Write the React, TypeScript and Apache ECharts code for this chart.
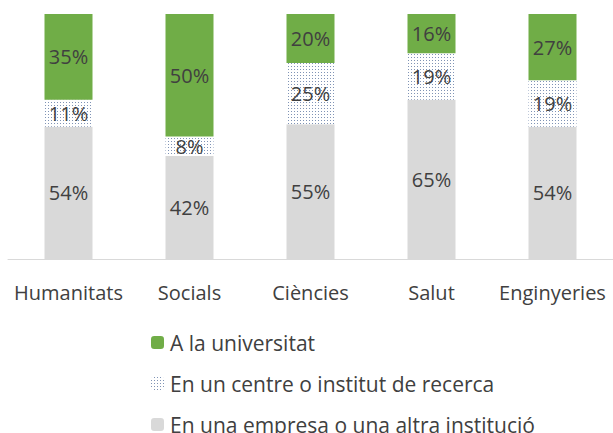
import React, { useEffect, useRef } from "react";
import * as echarts from "echarts";

const categories = ["Humanitats", "Socials", "Ciències", "Salut", "Enginyeries"];
const empresa = [54, 42, 55, 65, 54];
const centre = [11, 8, 25, 19, 19];
const universitat = [35, 50, 20, 16, 27];
const seriesNames = [
  "A la universitat",
  "En un centre o institut de recerca",
  "En una empresa o una altra institució",
];

const FONT = "'Open Sans', 'Noto Sans', sans-serif";
const TXT = "#404040";

export default function App() {
  const ref = useRef<HTMLDivElement>(null);
  useEffect(() => {
    if (!ref.current) return;
    const chart = echarts.init(ref.current, null, { renderer: "svg" });
    const label = {
      show: true,
      position: "inside" as const,
      formatter: "{c}%",
      fontSize: 20,
      color: TXT,
      fontFamily: FONT,
    };
    chart.setOption({
      animation: false,
      grid: { left: 8, right: -3, top: 14, bottom: 174, containLabel: false },
      legend: {
        orient: "vertical",
        left: 146,
        top: 327,
        height: 200,
        itemWidth: 13,
        itemHeight: 13,
        itemGap: 20,
        data: seriesNames,
        textStyle: { fontSize: 21, color: TXT, fontFamily: FONT, padding: [0, 0, 0, 1] },
      },
      xAxis: {
        type: "category",
        data: categories,
        axisLine: { lineStyle: { color: "#d9d9d9", width: 1 } },
        axisTick: { show: false },
        axisLabel: { fontSize: 20, color: TXT, fontFamily: FONT, margin: 23, interval: 0 },
      },
      yAxis: {
        type: "value",
        min: 0,
        max: 100,
        show: false,
        splitLine: { show: false },
      },
      series: [
        {
          name: seriesNames[2],
          type: "bar",
          stack: "s",
          barWidth: 48,
          data: empresa,
          itemStyle: { color: "#d9d9d9" },
          label,
        },
        {
          name: seriesNames[1],
          type: "bar",
          stack: "s",
          barWidth: 48,
          data: centre,
          itemStyle: {
            color: "#ffffff",
            decal: {
              symbol: "rect",
              symbolSize: 1,
              dashArrayX: [1, 2],
              dashArrayY: [1, 2],
              color: "#7f93b5",
              rotation: 0,
            },
          },
          label,
        },
        {
          name: seriesNames[0],
          type: "bar",
          stack: "s",
          barWidth: 48,
          data: universitat,
          itemStyle: { color: "#70ad47" },
          label,
        },
      ],
    });
    return () => chart.dispose();
  }, []);
  return <div ref={ref} style={{ width: 613, height: 433, position: "absolute", left: 0, top: 0 }} />;
}
